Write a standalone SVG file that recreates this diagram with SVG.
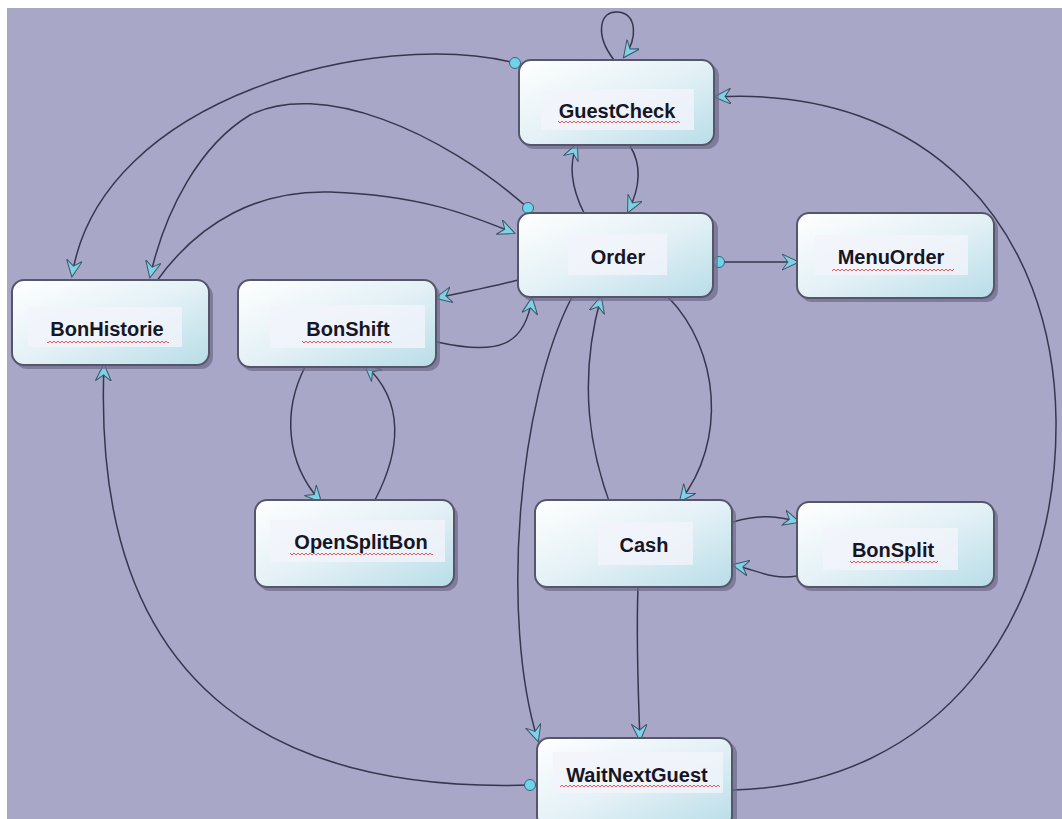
<svg xmlns="http://www.w3.org/2000/svg" width="1062" height="819" viewBox="0 0 1062 819">
<style>
.node rect.body{fill:url(#g);stroke:#55566a;stroke-width:2}
.node rect.shadow{fill:#6d6a88;opacity:.7}
.node rect.lbl{fill:#f3f4fb;opacity:.8}
.node text{font-family:"Liberation Sans",Arial,sans-serif;font-weight:bold;font-size:20px;fill:#161624;text-anchor:middle}
.node rect.sq{fill:url(#sq)}
#edges path{fill:none;stroke:#35374c;stroke-width:1.5}
#edges path.a{marker-end:url(#arr)}
#edges circle{fill:#6fd3ea;stroke:#3a6478;stroke-width:1}
</style>
<defs>
<linearGradient id="g" x1="0" y1="0" x2="1" y2="1">
<stop offset="0" stop-color="#ffffff"/>
<stop offset="0.5" stop-color="#e4f1f6"/>
<stop offset="1" stop-color="#b8dde8"/>
</linearGradient>
<pattern id="sq" width="4" height="4" patternUnits="userSpaceOnUse">
<polyline points="0,3 2,1 4,3" fill="none" stroke="#e04848" stroke-width="0.9"/>
</pattern>
<marker id="arr" markerWidth="20" markerHeight="18" refX="16" refY="8" orient="auto" markerUnits="userSpaceOnUse">
<path d="M0,0 L17,8 L0,16 L6,8 z" fill="#7fd2e4" stroke="#3a5568" stroke-width="1"/>
</marker>
</defs>
<rect width="1062" height="819" fill="#ffffff"/>
<rect x="7" y="8" width="1055" height="811" fill="#a9a7c8"/>

<g id="edges">
<path class="a" d="M614 60 C594 34,600 10,618 12 C637 14,638 38,624 57"/>
<path class="a" d="M515 63 C380 28,100 95,72 276"/>
<path class="a" d="M528 208 C440 130,320 80,250 115 C200 145,165 210,150 277"/>
<path class="a" d="M156 282 C200 220,260 190,330 192 C420 195,470 215,514 233"/>
<path class="a" d="M584 213 C575 195,566 170,577 144"/>
<path class="a" d="M630 146 C642 165,640 188,628 212"/>
<path class="a" d="M718 262 L798 262"/>
<path class="a" d="M518 280 C492 287,465 292,436 298"/>
<path class="a" d="M437 342 C500 356,525 345,532 298"/>
<path class="a" d="M305 367 C283 410,285 462,321 502"/>
<path class="a" d="M375 500 C400 452,406 402,365 365"/>
<path class="a" d="M668 297 C720 350,727 442,680 501"/>
<path class="a" d="M617 522 C588 452,578 380,601 297"/>
<path class="a" d="M572 297 C518 400,500 620,538 741"/>
<path class="a" d="M638 587 C636 640,638 690,640 740"/>
<path class="a" d="M733 522 C760 514,778 516,799 522"/>
<path class="a" d="M797 576 C770 580,758 570,733 565"/>
<path class="a" d="M530 785 C300 792,90 710,104 365"/>
<path class="a" d="M733 790 C940 785,1058 620,1056 420 C1054 230,930 85,715 97"/>
<circle cx="515" cy="63" r="5.5"/>
<circle cx="528" cy="208" r="5.5"/>
<circle cx="719" cy="262" r="5.5"/>
<circle cx="530" cy="785" r="5.5"/>
</g>

<g id="GuestCheck" class="node">
<rect class="shadow" x="522" y="64" width="197" height="85" rx="12"/>
<rect class="body" x="519" y="60" width="195" height="85" rx="12"/>
<rect class="lbl" x="541" y="89" width="153" height="41"/>
<text x="617" y="118">GuestCheck</text>
<rect class="sq" x="558" y="121" width="122" height="4"/>
</g>
<g id="Order" class="node">
<rect class="shadow" x="521" y="217" width="197" height="84" rx="12"/>
<rect class="body" x="518" y="213" width="195" height="84" rx="12"/>
<rect class="lbl" x="568" y="234" width="99" height="41"/>
<text x="618" y="264">Order</text>
</g>
<g id="MenuOrder" class="node">
<rect class="shadow" x="800" y="217" width="198" height="85" rx="12"/>
<rect class="body" x="797" y="213" width="197" height="85" rx="12"/>
<rect class="lbl" x="815" y="235" width="153" height="40"/>
<text x="891" y="264">MenuOrder</text>
<rect class="sq" x="832" y="267" width="122" height="4"/>
</g>
<g id="BonHistorie" class="node">
<rect class="shadow" x="15" y="284" width="198" height="85" rx="12"/>
<rect class="body" x="12" y="280" width="197" height="85" rx="12"/>
<rect class="lbl" x="28" y="307" width="154" height="40"/>
<text x="107" y="336">BonHistorie</text>
<rect class="sq" x="47" y="339" width="122" height="4"/>
</g>
<g id="BonShift" class="node">
<rect class="shadow" x="241" y="284" width="199" height="87" rx="12"/>
<rect class="body" x="238" y="280" width="198" height="87" rx="12"/>
<rect class="lbl" x="270" y="305" width="155" height="43"/>
<text x="348" y="336">BonShift</text>
<rect class="sq" x="302" y="339" width="90" height="4"/>
</g>
<g id="OpenSplitBon" class="node">
<rect class="shadow" x="258" y="504" width="200" height="87" rx="12"/>
<rect class="body" x="255" y="500" width="199" height="87" rx="12"/>
<rect class="lbl" x="270" y="520" width="175" height="42"/>
<text x="361" y="549">OpenSplitBon</text>
<rect class="sq" x="290" y="552" width="143" height="4"/>
</g>
<g id="Cash" class="node">
<rect class="shadow" x="538" y="504" width="198" height="87" rx="12"/>
<rect class="body" x="535" y="500" width="197" height="87" rx="12"/>
<rect class="lbl" x="598" y="522" width="95" height="43"/>
<text x="644" y="552">Cash</text>
</g>
<g id="BonSplit" class="node">
<rect class="shadow" x="800" y="506" width="198" height="85" rx="12"/>
<rect class="body" x="797" y="502" width="197" height="85" rx="12"/>
<rect class="lbl" x="823" y="528" width="135" height="42"/>
<text x="893" y="557">BonSplit</text>
<rect class="sq" x="850" y="560" width="88" height="4"/>
</g>
<g id="WaitNextGuest" class="node">
<rect class="shadow" x="540" y="742" width="197" height="90" rx="12"/>
<rect class="body" x="537" y="738" width="195" height="90" rx="12"/>
<rect class="lbl" x="553" y="752" width="170" height="41"/>
<text x="637" y="782">WaitNextGuest</text>
<rect class="sq" x="560" y="785" width="160" height="4"/>
</g>
</svg>
